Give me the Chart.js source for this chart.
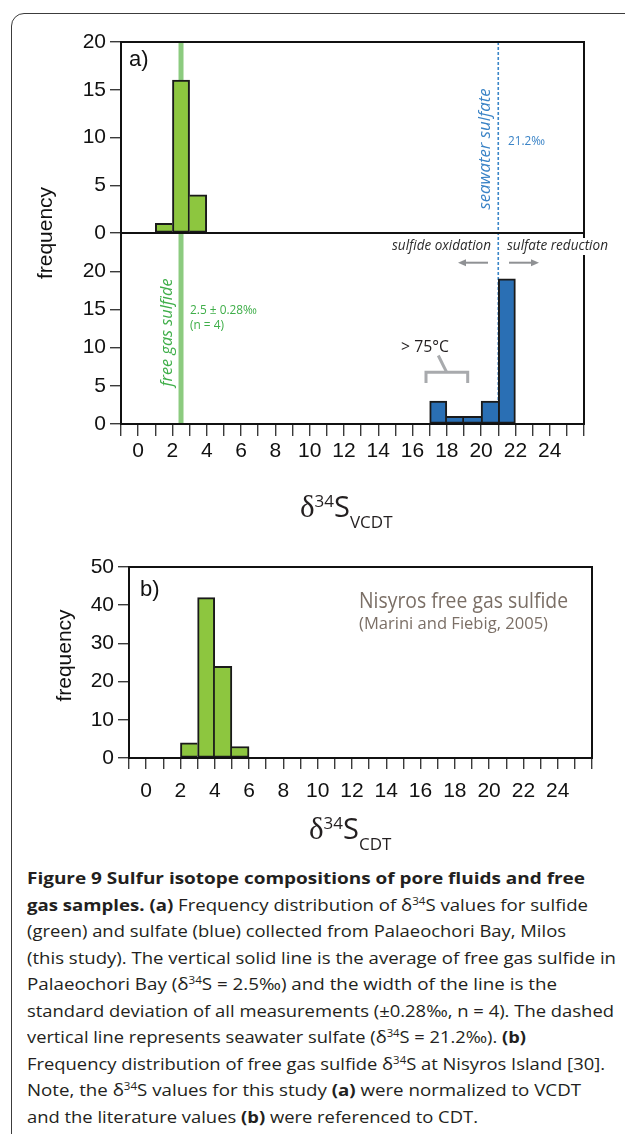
<!DOCTYPE html>
<html><head><meta charset="utf-8">
<script src="https://cdn.jsdelivr.net/npm/chart.js@4.4.0/dist/chart.umd.min.js"></script>
<style>
html,body{margin:0;padding:0;background:#fff;}
body{width:625px;height:1134px;position:relative;overflow:hidden;}
#frame{position:absolute;left:11px;top:13px;width:800px;height:1300px;border:1.6px solid #3c3c3c;border-radius:13px;box-sizing:border-box;}
#cA{position:absolute;left:0;top:0;}
#cB{position:absolute;left:0;top:540px;}
#caption{position:absolute;left:27px;top:865px;font-family:'Open Sans';font-size:16.5px;color:#231f20;}
.ln{height:26.5px;line-height:26.5px;white-space:nowrap;}
.ln span{display:inline-block;transform-origin:0 50%;}
sup{font-size:0.62em;vertical-align:0;position:relative;top:-0.55em;line-height:0;}
b{font-weight:700;}
</style></head>
<body>
<div id="frame"></div>
<canvas id="cA" width="625" height="540"></canvas>
<canvas id="cB" width="625" height="322"></canvas>
<div id="caption">
<div class="ln"><span><b>Figure 9 Sulfur isotope compositions of pore fluids and free</b></span></div>
<div class="ln"><span><b>gas samples. (a)</b> Frequency distribution of δ<sup>34</sup>S values for sulfide</span></div>
<div class="ln"><span>(green) and sulfate (blue) collected from Palaeochori Bay, Milos</span></div>
<div class="ln"><span>(this study). The vertical solid line is the average of free gas sulfide in</span></div>
<div class="ln"><span>Palaeochori Bay (δ<sup>34</sup>S = 2.5‰) and the width of the line is the</span></div>
<div class="ln"><span>standard deviation of all measurements (±0.28‰, n = 4). The dashed</span></div>
<div class="ln"><span>vertical line represents seawater sulfate (δ<sup>34</sup>S = 21.2‰). <b>(b)</b></span></div>
<div class="ln"><span>Frequency distribution of free gas sulfide δ<sup>34</sup>S at Nisyros Island [30].</span></div>
<div class="ln"><span>Note, the δ<sup>34</sup>S values for this study <b>(a)</b> were normalized to VCDT</span></div>
<div class="ln"><span>and the literature values <b>(b)</b> were referenced to CDT.</span></div>
</div>
<script>
// ---------------- data ----------------
const xLabelValues = [0, 2, 4, 6, 8, 10, 12, 14, 16, 18, 20, 22, 24];
const xMin = -1, xMax = 26;
const binWidth = 1;
// Panel a (Palaeochori Bay, VCDT)
const sulfideBinStart = [1, 2, 3];
const sulfideFreq = [1, 16, 4];
const sulfateBinStart = [17, 18, 19, 20, 21];
const sulfateFreq = [3, 1, 1, 3, 19];
const yTicksSulfide = [0, 5, 10, 15, 20];
const yTicksSulfate = [0, 5, 10, 15, 20];
const freeGasSulfideMean = 2.5;
const seawaterSulfate = 21.0;
// Panel b (Nisyros, CDT)
const nisyrosBinStart = [2, 3, 4, 5];
const nisyrosFreq = [4, 42, 24, 3];
const yTicksNisyros = [0, 10, 20, 30, 40, 50];
// caption line widths (layout)
const captionLineWidths = [558, 561, 539, 589, 530, 587, 499, 578, 554, 451];

// ---------------- helpers ----------------
const TICK_FONT = {family: '"Liberation Sans", Arial, sans-serif', size: 21};
const GREEN_BAR = '#8dc63f', BLUE_BAR = '#2a6fb4';
function toPoints(starts, vals) { return starts.map((s, i) => ({x: s + binWidth / 2, y: vals[i]})); }
function borderFor(vals) {
  return (c) => {
    const i = c.dataIndex, v = vals[i];
    const prev = i > 0 ? vals[i - 1] : -1, next = i < vals.length - 1 ? vals[i + 1] : -1;
    return {top: 2, bottom: 2, left: (i === 0 || prev < v) ? 2 : 0, right: (i === vals.length - 1 || next <= v) ? 2 : 0};
  };
}
function barDS(starts, vals, color, yId) {
  return {type: 'bar', data: toPoints(starts, vals), backgroundColor: color, borderColor: '#1a1a1a',
    borderWidth: borderFor(vals), borderSkipped: false, grouped: false,
    barPercentage: 1, categoryPercentage: 1, yAxisID: yId};
}
function xScale(height, tickLen, pad) {
  return {type: 'linear', min: xMin, max: xMax, offset: false,
    afterBuildTicks: s => { const t = []; for (let v = xMin; v <= xMax; v++) t.push({value: v}); s.ticks = t; },
    ticks: {autoSkip: false, maxRotation: 0, font: TICK_FONT, color: '#111', padding: pad,
      callback: v => xLabelValues.includes(v) ? String(v) : ''},
    grid: {offset: false, drawOnChartArea: false, drawTicks: true, tickLength: tickLen, color: '#3a3a3a', lineWidth: 1.4},
    border: {display: false},
    afterFit: s => { s.height = height; }};
}
function yScale(min, max, ticks, width, extra) {
  return Object.assign({type: 'linear', position: 'left', min: min, max: max,
    afterBuildTicks: s => { s.ticks = ticks.map(v => ({value: v})); },
    ticks: {font: TICK_FONT, color: '#111', padding: 4},
    grid: {drawOnChartArea: false, drawTicks: true, tickLength: 11, color: '#3a3a3a', lineWidth: 1.4},
    border: {display: false},
    afterFit: s => { s.width = width; }}, extra || {});
}
function txt(ctx, s, x, y, font, color, o) {
  o = o || {};
  ctx.save(); ctx.font = font; ctx.fillStyle = color;
  ctx.textBaseline = o.baseline || 'middle'; ctx.textAlign = o.align || 'left';
  ctx.translate(x, y); if (o.rot) ctx.rotate(o.rot);
  if (o.width) { const w = ctx.measureText(s).width; if (w > 0) ctx.scale(o.width / w, 1); }
  ctx.fillText(s, 0, 0); ctx.restore();
}
function deltaTitle(ctx, x, base, sub) {
  ctx.save(); ctx.fillStyle = '#231f20'; ctx.textBaseline = 'alphabetic'; ctx.textAlign = 'left';
  ctx.font = '31px "Liberation Serif", serif'; ctx.fillText('δ', x, base); x += ctx.measureText('δ').width;
  ctx.font = '17px "Open Sans", sans-serif'; ctx.fillText('34', x, base - 10); x += ctx.measureText('34').width;
  ctx.font = '29px "Open Sans", sans-serif'; ctx.fillText('S', x, base); x += ctx.measureText('S').width;
  ctx.font = '17px "Open Sans", sans-serif'; ctx.fillText(sub, x, base + 11);
  ctx.restore();
}
function hArrow(ctx, x1, x2, y, color) {
  const dir = Math.sign(x2 - x1);
  ctx.save(); ctx.strokeStyle = color; ctx.fillStyle = color; ctx.lineWidth = 2;
  ctx.beginPath(); ctx.moveTo(x1, y); ctx.lineTo(x2 - dir * 5, y); ctx.stroke();
  ctx.beginPath(); ctx.moveTo(x2, y); ctx.lineTo(x2 - dir * 8, y - 3.5); ctx.lineTo(x2 - dir * 8, y + 3.5); ctx.closePath(); ctx.fill();
  ctx.restore();
}
const LABEL_FONT = '"Open Sans", sans-serif';

// ---------------- panel a ----------------
const panelA = {
  id: 'panelA',
  beforeDatasetsDraw(chart) {
    const ctx = chart.ctx, ca = chart.chartArea, x = chart.scales.x;
    ctx.save();
    const gx = x.getPixelForValue(freeGasSulfideMean);
    ctx.strokeStyle = '#8ccb7f'; ctx.lineWidth = 5;
    ctx.beginPath(); ctx.moveTo(gx, ca.top); ctx.lineTo(gx, ca.bottom); ctx.stroke();
    const sx = x.getPixelForValue(seawaterSulfate);
    ctx.strokeStyle = '#3b86c8'; ctx.lineWidth = 1.6; ctx.setLineDash([3, 2]);
    ctx.beginPath(); ctx.moveTo(sx, ca.top); ctx.lineTo(sx, ca.bottom); ctx.stroke();
    ctx.restore();
  },
  afterDraw(chart) {
    const ctx = chart.ctx, ca = chart.chartArea;
    ctx.save(); ctx.strokeStyle = '#111'; ctx.lineWidth = 2;
    ['ySulfide', 'ySulfate'].forEach(id => { const s = chart.scales[id]; ctx.strokeRect(ca.left, s.top, ca.right - ca.left, s.bottom - s.top); });
    ctx.restore();
    // texts
    txt(ctx, 'a)', 129, 60, '22px "Liberation Sans", Arial', '#111');
    txt(ctx, 'frequency', 46, 233, '21px "Liberation Sans", Arial', '#111', {rot: -Math.PI / 2, align: 'center'});
    txt(ctx, 'seawater sulfate', 485, 149, 'italic 16px ' + LABEL_FONT, '#3a83c6', {rot: -Math.PI / 2, align: 'center', width: 121});
    txt(ctx, '21.2‰', 508, 141, '13px ' + LABEL_FONT, '#3a83c6', {width: 37});
    txt(ctx, 'free gas sulfide', 167, 332.5, 'italic 16px ' + LABEL_FONT, '#3fae49', {rot: -Math.PI / 2, align: 'center', width: 108});
    txt(ctx, '2.5 ± 0.28‰', 190, 310.5, '13px ' + LABEL_FONT, '#3fae49', {width: 67});
    txt(ctx, '(n = 4)', 190, 325, '13px ' + LABEL_FONT, '#3fae49', {width: 34});
    txt(ctx, 'sulfide oxidation', 392, 245.5, 'italic 15px ' + LABEL_FONT, '#2b2b2b', {width: 99});
    ctx.save(); ctx.fillStyle = '#fff'; ctx.fillRect(505, 238, 106, 17); ctx.restore();
    txt(ctx, 'sulfate reduction', 507, 245.5, 'italic 15px ' + LABEL_FONT, '#2b2b2b', {width: 101});
    hArrow(ctx, 488, 458, 262.7, '#8f9194');
    hArrow(ctx, 509, 539, 262.7, '#8f9194');
    txt(ctx, '> 75°C', 401, 347, '17px ' + LABEL_FONT, '#231f20', {width: 48});
    ctx.save(); ctx.strokeStyle = '#a8aaad'; ctx.lineWidth = 3; ctx.lineJoin = 'miter';
    ctx.beginPath(); ctx.moveTo(426, 383); ctx.lineTo(426, 372.3); ctx.lineTo(467.7, 372.3); ctx.lineTo(467.7, 383); ctx.stroke();
    ctx.beginPath(); ctx.moveTo(446.7, 372.3); ctx.lineTo(438.3, 355.5); ctx.stroke();
    ctx.restore();
    deltaTitle(ctx, 300, 517, 'VCDT');
  }
};

new Chart(document.getElementById('cA'), {
  type: 'bar',
  data: {datasets: [barDS(sulfideBinStart, sulfideFreq, GREEN_BAR, 'ySulfide'), barDS(sulfateBinStart, sulfateFreq, BLUE_BAR, 'ySulfate')]},
  options: {
    responsive: false, animation: false, devicePixelRatio: 1,
    layout: {padding: {left: 0, top: 42, right: 41, bottom: 0}},
    plugins: {legend: {display: false}, tooltip: {enabled: false}},
    scales: {
      x: xScale(116, 12, 3),
      // first stacked axis is laid out at the bottom
      ySulfate: yScale(0, 25, yTicksSulfate, 121, {stack: 'a', stackWeight: 1}),
      ySulfide: yScale(0, 20, yTicksSulfide, 121, {stack: 'a', stackWeight: 1})
    }
  },
  plugins: [panelA]
});

// ---------------- panel b ----------------
const panelB = {
  id: 'panelB',
  afterDraw(chart) {
    const ctx = chart.ctx, ca = chart.chartArea;
    ctx.save(); ctx.strokeStyle = '#111'; ctx.lineWidth = 2;
    ctx.strokeRect(ca.left, ca.top, ca.right - ca.left, ca.bottom - ca.top); ctx.restore();
    txt(ctx, 'b)', 140, 50, '22px "Liberation Sans", Arial', '#111');
    txt(ctx, 'frequency', 65, 115.5, '21px "Liberation Sans", Arial', '#111', {rot: -Math.PI / 2, align: 'center'});
    txt(ctx, 'Nisyros free gas sulfide', 359, 62.5, '21px ' + LABEL_FONT, '#7b6f66', {width: 209});
    txt(ctx, '(Marini and Fiebig, 2005)', 359, 85, '15.5px ' + LABEL_FONT, '#7b6f66', {width: 189});
    deltaTitle(ctx, 309, 299, 'CDT');
  }
};

new Chart(document.getElementById('cB'), {
  type: 'bar',
  data: {datasets: [barDS(nisyrosBinStart, nisyrosFreq, GREEN_BAR, 'y')]},
  options: {
    responsive: false, animation: false, devicePixelRatio: 1,
    layout: {padding: {left: 0, top: 27, right: 33, bottom: 0}},
    plugins: {legend: {display: false}, tooltip: {enabled: false}},
    scales: {
      x: xScale(104, 11, 10),
      y: yScale(0, 50, yTicksNisyros, 129)
    }
  },
  plugins: [panelB]
});

// ---------------- caption fitting ----------------
document.querySelectorAll('#caption .ln span').forEach((sp, i) => {
  const w = sp.getBoundingClientRect().width;
  if (w > 0) sp.style.transform = 'scaleX(' + (captionLineWidths[i] / w) + ')';
});
</script>
</body></html>
